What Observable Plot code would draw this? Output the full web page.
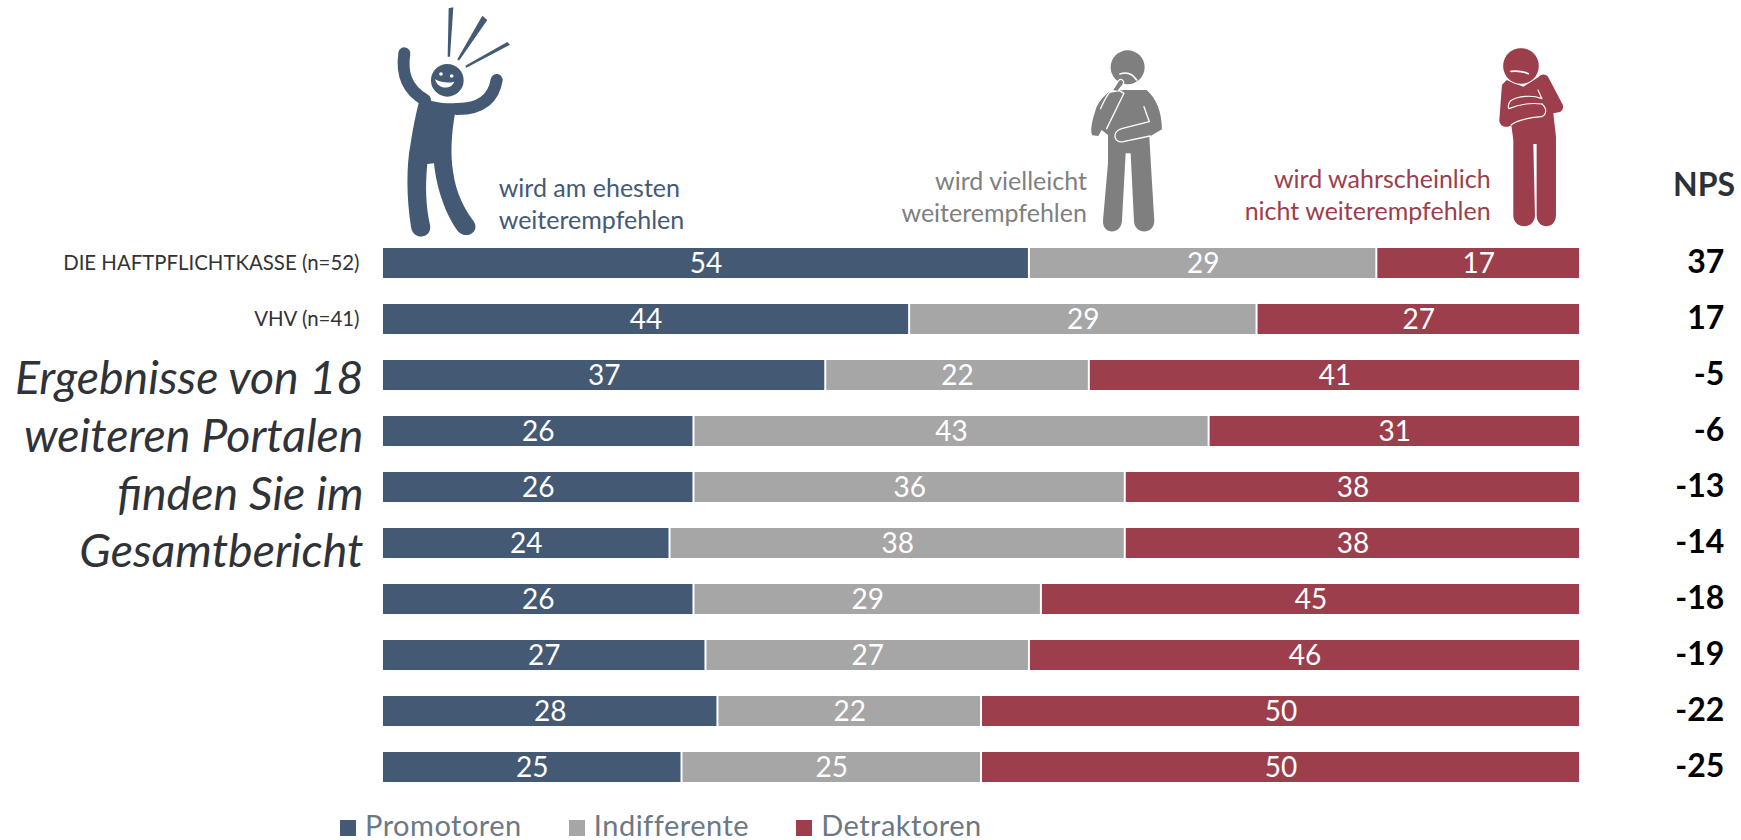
<!DOCTYPE html>
<html lang="de">
<head>
<meta charset="utf-8">
<title>Weiterempfehlung</title>
<script src="https://cdn.jsdelivr.net/npm/d3@7"></script>
<script src="https://cdn.jsdelivr.net/npm/@observablehq/plot@0.6"></script>
<style>
  html, body { margin: 0; padding: 0; background: #fff; overflow: hidden; }
  #chart svg { display: block; }
  #legend { position: absolute; left: 340px; top: 810px; }
  #legend .nps-legend-swatches { display: flex; margin: 0; min-height: 0; font: 29px/29px Lato, sans-serif; letter-spacing: 0.5px; color: #6b7885; }
  #legend .nps-legend-swatch { margin-right: 47px; display: inline-flex; align-items: center; }
  #legend .nps-legend-swatch svg { margin-right: 9px; position: relative; top: 3px; }
</style>
</head>
<body>
<div id="chart"></div>
<div id="legend"></div>
<script>
// Survey results per portal, in percent
const groups = ["Promotoren", "Indifferente", "Detraktoren"];
const promoters = [54, 44, 37, 26, 26, 24, 26, 27, 28, 25];
const indifferent = [29, 29, 22, 43, 36, 38, 29, 27, 22, 25];
const detractors = [17, 27, 41, 31, 38, 38, 45, 46, 50, 50];
const nps = [37, 17, -5, -6, -13, -14, -18, -19, -22, -25];
const rowLabels = ["DIE HAFTPFLICHTKASSE (n=52)", "VHV (n=41)", "", "", "", "", "", "", "", ""];
const note = "Ergebnisse von 18\nweiteren Portalen\nfinden Sie im\nGesamtbericht";
const captionPromoters = "wird am ehesten\nweiterempfehlen";
const captionIndifferent = "wird vielleicht\nweiterempfehlen";
const captionDetractors = "wird wahrscheinlich\nnicht weiterempfehlen";
const npsHeader = "NPS";

const colors = ["#445a74", "#a6a6a6", "#9c3e4b"];
const rows = d3.range(rowLabels.length);
const series = [promoters, indifferent, detractors];
const segments = groups.flatMap((group, g) =>
  rows.map(row => ({group, row, value: series[g][row]}))
);

// Pictogram of one person, authored in its own local units and placed by a transform
function person(transform, color, draw) {
  return (index, scales, values, dimensions, context) => {
    const g = d3.select(context.document.createElementNS("http://www.w3.org/2000/svg", "g"))
      .attr("transform", transform);
    draw(g, color);
    return g.node();
  };
}
const solid = (g, d, color) => g.append("path").attr("d", d).attr("fill", color);
const line = (g, d, color, width) => g.append("path").attr("d", d).attr("fill", "none")
  .attr("stroke", color).attr("stroke-width", width)
  .attr("stroke-linecap", "round").attr("stroke-linejoin", "round");

const cheering = person("translate(350,0) scale(0.3333)", colors[0], (g, c) => {
  solid(g, "M296,25L310,22L300,170L293,170Z", c);
  solid(g, "M397,47L412,60L327,182L322,178Z", c);
  solid(g, "M472,126L480,134L349,203L346,197Z", c);
  line(g, "M163,160C155,215 165,265 225,300", c, 36);
  line(g, "M440,240C432,290 400,328 320,327", c, 36);
  solid(g, "M207,290C240,305 280,312 325,309L315,340C305,400 300,460 310,520C318,580 345,630 372,665C390,695 350,720 325,695C290,650 260,570 252,490L232,492C225,560 228,620 240,675C248,715 190,725 183,680C170,600 168,500 182,430C190,380 197,345 207,305Z", c);
  g.append("circle").attr("cx", 292).attr("cy", 241).attr("r", 49).attr("fill", c);
  g.append("circle").attr("cx", 273).attr("cy", 222).attr("r", 5.5).attr("fill", "#fff");
  g.append("circle").attr("cx", 305).attr("cy", 228).attr("r", 5.5).attr("fill", "#fff");
  solid(g, "M255,238C275,248 295,250 313,245C305,268 265,272 255,238Z", "#fff");
});

const pondering = person("translate(880,30) scale(0.3333)", "#7f7f7f", (g, c) => {
  g.append("circle").attr("cx", 743).attr("cy", 112).attr("r", 51).attr("fill", c);
  solid(g, "M690,183L735,180L800,180C830,205 846,250 846,298L808,320L815,440L823,572C823,615 763,615 762,572L752,370L737,370L726,572C724,615 667,615 669,572L684,400L684,315L665,300L655,318L637,316C628,300 640,260 650,230C660,210 675,195 690,183Z", c);
  line(g, "M690,185C675,205 668,222 662,236", "#fff", 4);
  line(g, "M680,296L732,190L718,182L690,186", "#fff", 4);
  line(g, "M692,186L716,152C724,142 736,155 728,166L718,180", "#fff", 4);
  solid(g, "M716,155C724,145 733,155 726,165L712,182L700,180Z", c);
  line(g, "M792,230L808,275L725,296C695,305 700,340 730,335L810,318", "#fff", 4);
  line(g, "M720,132C740,125 758,132 770,150", "#fff", 5);
});

const declining = person("translate(1270,30) scale(0.3333)", colors[2], (g, c) => {
  solid(g, "M710,150L696,165L688,270C688,292 715,295 724,285L730,330L730,555C730,600 795,600 795,555L790,342L800,342L800,555C800,600 858,600 858,555L858,320L850,250L870,246C880,240 882,228 876,220L835,142C828,130 812,132 805,142L760,170Z", c);
  g.append("circle").attr("cx", 753).attr("cy", 108).attr("r", 55).attr("fill", c).attr("stroke", "#fff").attr("stroke-width", 3);
  line(g, "M723,124C742,122 760,124 775,131", "#fff", 5);
  line(g, "M804,180L816,206C785,194 745,198 722,212C714,222 714,232 717,236C750,222 785,218 816,222", "#fff", 3.5);
  line(g, "M724,284C750,265 790,262 815,260C830,255 832,235 816,222", "#fff", 3.5);
});

const chart = Plot.plot({
  width: 1741,
  height: 800,
  marginTop: 246.5,
  marginBottom: 16,
  marginLeft: 382,
  marginRight: 161,
  style: {fontFamily: "Lato, sans-serif", background: "#fff"},
  x: {domain: [0, 100], axis: null},
  y: {domain: rows, paddingInner: 0.466, paddingOuter: 0, axis: null},
  color: {domain: groups, range: colors},
  marks: [
    cheering, pondering, declining,
    Plot.barX(segments, {x: "value", y: "row", fill: "group", insetRight: 1, insetLeft: 1}),
    Plot.text(segments, Plot.stackX({
      x: "value", y: "row", z: "group", text: "value",
      fill: "#fff", fontSize: 28, dy: 1
    })),
    // Row names left of the bars
    Plot.axisY({
      tickSize: 0, tickPadding: 23, tickFormat: i => rowLabels[i],
      fontSize: 20.4, color: "#333", label: null, marginLeft: 382
    }),
    // Note spanning the unnamed rows
    Plot.text([note], {
      text: d => d, y: 2, x: 0, dx: -19, dy: -22, textAnchor: "end", lineAnchor: "top",
      fontSize: 46.5, lineHeight: 1.24, fontStyle: "italic", fill: "#2f3338"
    }),
    // Captions over the bars
    Plot.text([captionPromoters], {
      text: d => d, x: 9.7, frameAnchor: "top", dy: -72, textAnchor: "start",
      fontSize: 25, lineHeight: 1.26, fill: colors[0]
    }),
    Plot.text([captionIndifferent], {
      text: d => d, x: 58.8, frameAnchor: "top", dy: -79, textAnchor: "end",
      fontSize: 25, lineHeight: 1.26, fill: "#7f7f7f"
    }),
    Plot.text([captionDetractors], {
      text: d => d, x: 92.5, frameAnchor: "top", dy: -81, textAnchor: "end",
      fontSize: 25, lineHeight: 1.26, fill: colors[2]
    }),
    // NPS column to the right of the 100 % end
    Plot.text(rows, {
      text: i => String(nps[i]), y: i => i, x: 112, dy: -1, textAnchor: "end",
      fontSize: 32, fontWeight: "bold", fill: "#000"
    }),
    Plot.text([npsHeader], {
      text: d => d, x: 112.9, frameAnchor: "top", dy: -74, textAnchor: "end",
      fontSize: 32, fontWeight: "bold", fill: "#2b3138"
    })
  ]
});
document.getElementById("chart").append(chart);
document.getElementById("legend").append(
  chart.legend("color", {swatchSize: 16, className: "nps-legend"})
);
</script>
</body>
</html>
